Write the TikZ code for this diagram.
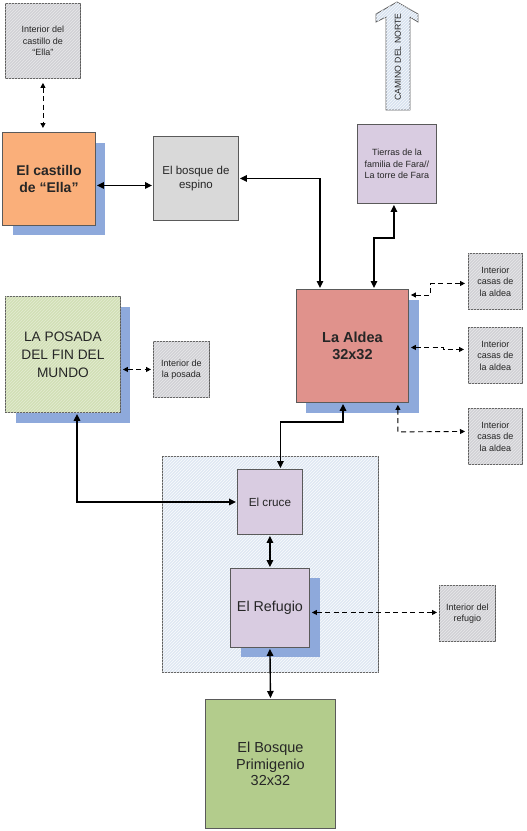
\documentclass[tikz,border=0pt]{standalone}
\usepackage{fontspec}
\setmainfont{Liberation Sans}
\usetikzlibrary{arrows.meta,patterns,calc}
\definecolor{shadowblue}{HTML}{8EA9DB}
\definecolor{castorange}{HTML}{FAAF7A}
\definecolor{espgray}{HTML}{D9D9D9}
\definecolor{lavender}{HTML}{D9CCE1}
\definecolor{aldeared}{HTML}{E0928C}
\definecolor{posgreen}{HTML}{D2E0B6}
\definecolor{intgray}{HTML}{D2D2D6}
\definecolor{regblue}{HTML}{DFE8F3}
\definecolor{primgreen}{HTML}{B3CC8C}
\definecolor{camblue}{HTML}{D8E3F0}
\definecolor{edgegray}{HTML}{5A5A5A}
\definecolor{txt}{HTML}{262626}
\begin{document}
\begin{tikzpicture}[x=1pt,y=-1pt,
  box/.style={draw=edgegray, line width=0.9pt, inner sep=1pt, anchor=north west,
    align=center, text=txt},
  hatch/.style={postaction={pattern=north east lines, pattern color=#1}},
  conn/.style={line width=1.4pt, {Triangle[length=7pt,width=6.5pt]}-{Triangle[length=7pt,width=6.5pt]}},
  dconn/.style={line width=0.9pt, dash pattern=on 5pt off 3.5pt, {Triangle[length=5pt,width=5pt]}-{Triangle[length=5pt,width=5pt]}},
  small/.style={font=\fontsize{9}{11.5}\selectfont},
]
\useasboundingbox (0,0) rectangle (527,831);

% region
\node[box, fill=regblue, hatch=white!85!regblue, minimum width=216pt, minimum height=216pt] (region) at (162,456) {};

% shadows
\fill[shadowblue] (13,143) rectangle (105,235);
\fill[shadowblue] (306,300) rectangle (419,413);
\fill[shadowblue] (16,307) rectangle (130,423);
\fill[shadowblue] (241,578) rectangle (320,657);

% camino del norte arrow
\draw[edgegray, line width=0.8pt, fill=camblue, hatch=white!80!camblue]
  (397,2) -- (418,14) -- (418,22) -- (410,17) -- (410,110) -- (386,110)
  -- (386,17) -- (376,22) -- (376,14) -- cycle;
\node[rotate=90, text=txt, font=\fontsize{8.7}{10}\selectfont] (camino) at (398,57) {CAMINO DEL NORTE};

% boxes
\node[box, small, fill=intgray, hatch=white!50!intgray, minimum width=75pt, minimum height=75pt] (intcast) at (5,3) {Interior del\\castillo de\\“Ella”};
\node[box, fill=castorange, minimum width=93pt, minimum height=93pt,
  font=\fontsize{14}{17}\selectfont\bfseries] (castillo) at (2,132) {El castillo\\de “Ella”};
\node[box, fill=espgray, minimum width=85pt, minimum height=84pt,
  font=\fontsize{11.5}{14}\selectfont] (espino) at (153,136) {El bosque de\\espino};
\node[box, small, fill=lavender, minimum width=79pt, minimum height=79pt] (tierras) at (357,124) {Tierras de la\\familia de Fara//\\La torre de Fara};
\node[box, fill=aldeared, minimum width=112pt, minimum height=113pt,
  font=\fontsize{14.5}{17}\selectfont\bfseries] (aldea) at (296,289) {La Aldea\\32x32};
\node[box, small, fill=intgray, hatch=white!50!intgray, minimum width=54pt, minimum height=56pt] (casa1) at (468,253) {Interior\\casas de\\la aldea};
\node[box, small, fill=intgray, hatch=white!50!intgray, minimum width=54pt, minimum height=56pt] (casa2) at (468,327) {Interior\\casas de\\la aldea};
\node[box, small, fill=intgray, hatch=white!50!intgray, minimum width=54pt, minimum height=56pt] (casa3) at (468,408) {Interior\\casas de\\la aldea};
\node[box, fill=posgreen, hatch=white!40!posgreen, minimum width=115pt, minimum height=116pt,
  font=\fontsize{13.7}{18}\selectfont] (posada) at (5,296) {LA POSADA\\DEL FIN DEL\\MUNDO};
\node[box, small, fill=intgray, hatch=white!50!intgray, minimum width=56pt, minimum height=56pt] (intpos) at (153,341) {Interior de\\la posada};
\node[box, fill=lavender, minimum width=65pt, minimum height=65pt,
  font=\fontsize{11.7}{14}\selectfont] (cruce) at (237,469) {El cruce};
\node[box, fill=lavender, minimum width=79pt, minimum height=79pt,
  font=\fontsize{14.3}{17}\selectfont] (refugio) at (230,568) {El Refugio};
\node[box, small, fill=intgray, hatch=white!50!intgray, minimum width=56pt, minimum height=56pt] (intref) at (439,585) {Interior del\\refugio};
\node[box, fill=primgreen, minimum width=130pt, minimum height=129pt,
  font=\fontsize{14.5}{16.5}\selectfont] (prim) at (205,699) {El Bosque\\Primigenio\\32x32};

% connectors
\draw[dconn] ($(intcast.south)+(0,4)$) -- ($(intcast.south |- castillo.north)+(0,-4)$);
\draw[conn] ($(castillo.east)+(1,6.5)$) -- ($(espino.west |- castillo.east)+(-1,6.5)$);
\draw[conn] ($(espino.east)+(1,0)$) -| ($(aldea.north west)+(24,-1)$);
\draw[conn] ($(tierras.south)+(-3,1)$) -- ++(0,33) -| ($(aldea.north west)+(78,-1)$);
\draw[dconn] ($(aldea.north east)+(2,6)$) -- ++(20,0) |- ($(casa1.west)+(-3,2)$);
\draw[dconn] ($(aldea.east)+(2,1.5)$) -- ++(33,0) |- ($(casa2.west)+(-4,-6)$);
\draw[dconn] ($(aldea.south east)+(-11,2)$) -- ++(0,27) -- ($(casa3.west)+(-3,-5)$);
\draw[conn] ($(aldea.south west)+(47,1)$) -- ++(0,18) -| ($(cruce.north)+(10.5,-1)$);
\draw[conn] ($(posada.south west)+(72,1)$) |- ($(cruce.west)+(-1,0)$);
\draw[conn] ($(cruce.south)+(0,1)$) -- ($(refugio.north)+(0,-1)$);
\draw[dconn] ($(refugio.east |- intref.west)+(2,-1)$) -- ($(intref.west)+(-2,-1)$);
\draw[conn] ($(refugio.south)+(0,1)$) -- ($(prim.north)+(0,-1)$);
\draw[dconn] ($(posada.east |- intpos.west)+(2,0)$) -- ($(intpos.west)+(-2,0)$);
\end{tikzpicture}
\end{document}
